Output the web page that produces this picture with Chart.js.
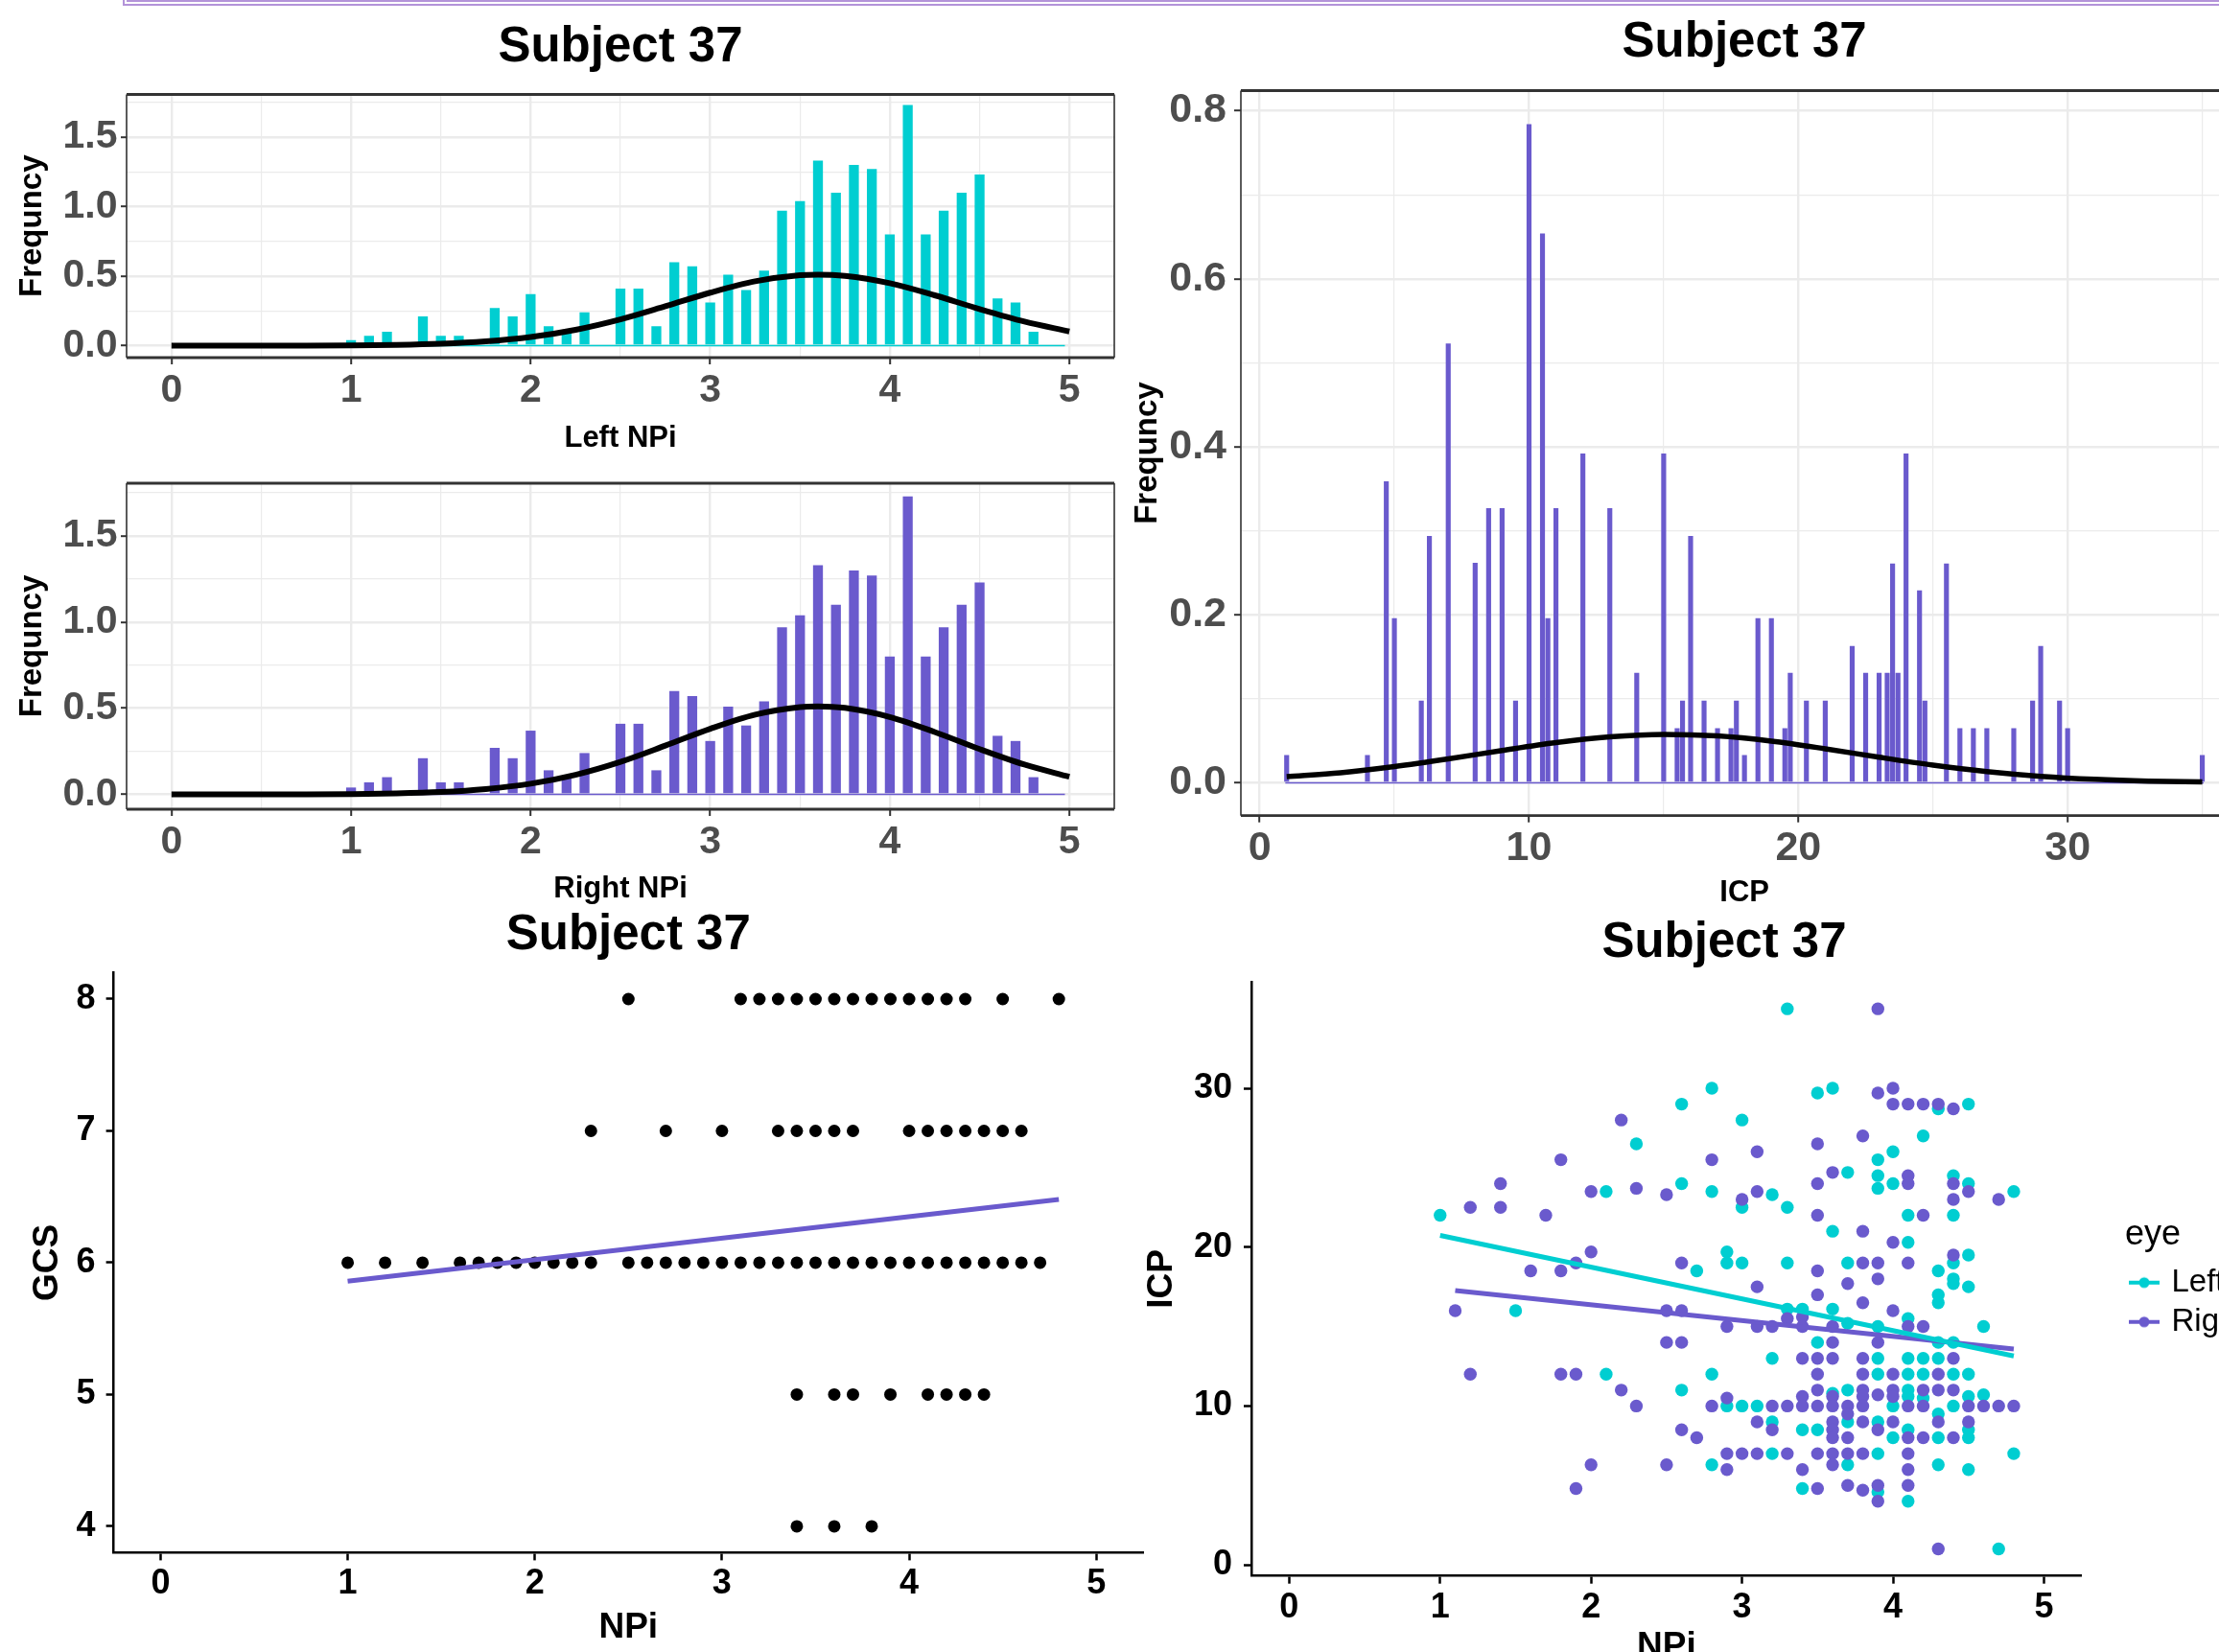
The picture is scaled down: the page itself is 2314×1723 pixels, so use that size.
<!DOCTYPE html>
<html>
<head>
<meta charset="utf-8">
<script src="https://cdn.jsdelivr.net/npm/chart.js@4.4.1/dist/chart.umd.min.js"></script>
<style>
html,body{margin:0;padding:0;background:#fff;overflow:hidden;}
body{position:relative;width:2314px;height:1723px;}
canvas{position:absolute;}
#frame{position:absolute;left:128px;top:-20px;width:2400px;height:14px;border:6px double #b393d9;}
</style>
</head>
<body>
<div id="frame"></div>
<canvas id="cA" width="1175" height="480" style="left:0px;top:0px"></canvas>
<canvas id="cB" width="1175" height="470" style="left:0px;top:480px"></canvas>
<canvas id="cC" width="1180" height="950" style="left:1180px;top:0px"></canvas>
<canvas id="cD" width="1200" height="773" style="left:0px;top:950px"></canvas>
<canvas id="cE" width="1236" height="800" style="left:1180px;top:950px"></canvas>
<script>
// ---------------- DATA ----------------
const CYAN = '#00CED1', PURPLE = '#6A5ACD';
const chartTitle = 'Subject 37';

// Left / Right NPi histograms (density, 0.05-wide bins)
const npiBinCenters = [1.0,1.1,1.2,1.4,1.5,1.6,1.8,1.9,2.0,2.1,2.2,2.3,2.5,2.6,2.7,2.8,2.9,3.0,3.1,3.2,3.3,3.4,3.5,3.6,3.7,3.8,3.9,4.0,4.1,4.2,4.3,4.4,4.5,4.6,4.7,4.8];
const leftNpiDensity  = [0.04,0.07,0.10,0.21,0.07,0.07,0.27,0.21,0.37,0.14,0.10,0.24,0.41,0.41,0.14,0.60,0.57,0.31,0.51,0.40,0.54,0.97,1.04,1.33,1.10,1.30,1.27,0.80,1.73,0.80,0.97,1.10,1.23,0.34,0.31,0.10];
const rightNpiDensity = [0.04,0.07,0.10,0.21,0.07,0.07,0.27,0.21,0.37,0.14,0.10,0.24,0.41,0.41,0.14,0.60,0.57,0.31,0.51,0.40,0.54,0.97,1.04,1.33,1.10,1.30,1.27,0.80,1.73,0.80,0.97,1.10,1.23,0.34,0.31,0.10];
const npiBinSpan = [0.975, 4.975];
const npiCurveX = [0,0.25,0.5,0.75,1,1.25,1.5,1.75,2,2.25,2.5,2.75,3,3.25,3.5,3.6,3.75,4,4.25,4.5,4.75,5];
const npiCurveY = [0,0,0.0002,0.0006,0.002,0.0055,0.0136,0.031,0.062,0.114,0.189,0.283,0.381,0.463,0.507,0.511,0.502,0.449,0.362,0.263,0.173,0.102];
const npiXTicks = [0,1,2,3,4,5];
const npiXMinor = [0.5,1.5,2.5,3.5,4.5];
const densYTicks = [0,0.5,1.0,1.5];
const densYMinor = [0.25,0.75,1.25,1.75];

// ICP histogram (density, 0.1-wide bins)
const icpBinCenters = [1.0,4.0,4.7,5.0,6.0,6.3,7.0,8.0,8.5,9.0,9.5,10.0,10.5,10.7,11.0,12.0,13.0,14.0,15.0,15.5,15.7,16.0,16.5,17.0,17.5,17.7,18.0,18.5,19.0,19.5,19.7,20.3,21.0,22.0,22.5,23.0,23.3,23.5,23.7,24.0,24.5,24.7,25.5,26.0,26.5,27.0,28.0,28.7,29.0,29.7,30.0,35.0];
const icpDensity = [0.033,0.033,0.359,0.196,0.098,0.294,0.523,0.262,0.327,0.327,0.098,0.784,0.654,0.196,0.327,0.392,0.327,0.131,0.392,0.065,0.098,0.294,0.098,0.065,0.065,0.098,0.033,0.196,0.196,0.065,0.131,0.098,0.098,0.163,0.131,0.131,0.131,0.261,0.131,0.392,0.229,0.098,0.261,0.065,0.065,0.065,0.065,0.098,0.163,0.098,0.065,0.033];
const icpBinSpan = [0.95, 35.05];
const icpCurveX = [1,3,5,7,9,11,13,15,17,19,21,23,25,27,29,31,33,35];
const icpCurveY = [0.0075,0.0121,0.0194,0.0285,0.0386,0.0480,0.0549,0.0578,0.0559,0.0497,0.0406,0.0305,0.0211,0.0134,0.0078,0.0042,0.0021,0.0012];
const icpXTicks = [0,10,20,30];
const icpXMinor = [5,15,25,35];
const icpYTicks = [0,0.2,0.4,0.6,0.8];
const icpYMinor = [0.1,0.3,0.5,0.7];

// GCS vs NPi
const gcs8Npi = [2.5,3.1,3.2,3.3,3.4,3.5,3.6,3.7,3.8,3.9,4.0,4.1,4.2,4.3,4.5,4.8];
const gcs7Npi = [2.3,2.7,3.0,3.3,3.4,3.5,3.6,3.7,4.0,4.1,4.2,4.3,4.4,4.5,4.6];
const gcs6Npi = [1.0,1.2,1.4,1.6,1.7,1.8,1.9,2.0,2.1,2.2,2.3,2.5,2.6,2.7,2.8,2.9,3.0,3.1,3.2,3.3,3.4,3.5,3.6,3.7,3.8,3.9,4.0,4.1,4.2,4.3,4.4,4.5,4.6,4.7];
const gcs5Npi = [3.4,3.6,3.7,3.9,4.1,4.2,4.3,4.4];
const gcs4Npi = [3.4,3.6,3.8];
const gcsFitNpi = [1.0, 4.8];
const gcsFitValue = [5.86, 6.48];
const scatterXTicks = [0,1,2,3,4,5];
const gcsYTicks = [4,5,6,7,8];

// ICP vs NPi by eye
const leftEye = [[1.0,22],[1.5,16],[2.1,23.5],[2.1,12],[2.3,26.5],[2.6,29],[2.6,24],[2.6,11],[2.7,18.5],[2.8,30],[2.8,23.5],[2.8,12],[2.8,6.3],[2.9,19.7],[2.9,19],[2.9,10],[3.0,28],[3.0,22.5],[3.0,19],[3.0,10],[3.1,10],[3.2,23.3],[3.2,13],[3.2,9],[3.2,7],[3.3,35],[3.3,22.5],[3.3,19],[3.3,16.1],[3.4,16.1],[3.4,8.5],[3.4,4.8],[3.5,29.7],[3.5,14],[3.5,8.5],[3.6,30],[3.6,21],[3.6,16.1],[3.6,10.8],[3.7,24.7],[3.7,19],[3.7,15.2],[3.7,11],[3.7,9],[3.7,6.3],[3.9,25.5],[3.9,24.5],[3.9,23.7],[3.9,15],[3.9,13],[3.9,12],[3.9,9],[3.9,7],[3.9,4.6],[4.0,26],[4.0,24],[4.0,10],[4.0,8],[4.1,22],[4.1,20.3],[4.1,15.5],[4.1,13],[4.1,12],[4.1,11],[4.1,10.6],[4.1,8.5],[4.1,4],[4.2,27],[4.2,13],[4.2,12],[4.2,10.5],[4.3,28.7],[4.3,18.5],[4.3,17],[4.3,16.5],[4.3,14],[4.3,13],[4.3,9.5],[4.3,8],[4.3,6.3],[4.4,24.5],[4.4,22],[4.4,19],[4.4,18],[4.4,17.7],[4.4,14],[4.4,12],[4.4,10],[4.5,29],[4.5,24],[4.5,19.5],[4.5,17.5],[4.5,12],[4.5,10.6],[4.5,8.5],[4.5,8],[4.5,6],[4.6,15],[4.6,10.7],[4.7,1],[4.8,23.5],[4.8,7]];
const rightEye = [[1.1,16],[1.2,22.5],[1.2,12],[1.4,24],[1.4,22.5],[1.6,18.5],[1.7,22],[1.8,25.5],[1.8,18.5],[1.8,12],[1.9,19],[1.9,12],[1.9,4.8],[2.0,23.5],[2.0,19.7],[2.0,6.3],[2.2,28],[2.2,11],[2.3,23.7],[2.3,10],[2.5,23.3],[2.5,16],[2.5,14],[2.5,6.3],[2.6,19],[2.6,16],[2.6,14],[2.6,8.5],[2.7,8],[2.8,25.5],[2.8,10],[2.9,15],[2.9,10.5],[2.9,7],[2.9,6],[3.0,23],[3.0,7],[3.1,26],[3.1,23.5],[3.1,17.5],[3.1,15],[3.1,9],[3.1,7],[3.2,15],[3.2,10],[3.2,8.5],[3.3,15.5],[3.3,10],[3.3,7],[3.4,15.6],[3.4,15],[3.4,13],[3.4,10.6],[3.4,10],[3.4,6],[3.5,26.5],[3.5,24],[3.5,22],[3.5,18.5],[3.5,17],[3.5,13],[3.5,12],[3.5,11],[3.5,10],[3.5,7],[3.5,4.8],[3.6,24.7],[3.6,15],[3.6,14],[3.6,13],[3.6,10.6],[3.6,10],[3.6,9],[3.6,8.5],[3.6,8],[3.6,7],[3.6,6.3],[3.7,17.7],[3.7,10],[3.7,9.5],[3.7,8],[3.7,7],[3.7,5],[3.8,27],[3.8,21],[3.8,19],[3.8,16.5],[3.8,13],[3.8,12],[3.8,11],[3.8,10.6],[3.8,10],[3.8,9],[3.8,7],[3.8,4.7],[3.9,35],[3.9,29.7],[3.9,19],[3.9,18],[3.9,14],[3.9,10.7],[3.9,8.5],[3.9,5],[3.9,4],[4.0,30],[4.0,29],[4.0,20.3],[4.0,16],[4.0,12],[4.0,11],[4.0,10.6],[4.0,9],[4.1,29],[4.1,24.5],[4.1,24],[4.1,19],[4.1,15],[4.1,10],[4.1,8],[4.1,7],[4.1,6],[4.1,5],[4.2,29],[4.2,22],[4.2,15],[4.2,11],[4.2,10],[4.2,8],[4.3,29],[4.3,12],[4.3,11],[4.3,9],[4.3,1],[4.4,28.7],[4.4,24],[4.4,23],[4.4,19.5],[4.4,13],[4.4,11],[4.4,8],[4.5,23.5],[4.5,10],[4.5,9],[4.6,10],[4.7,23],[4.7,10],[4.8,10]];
const leftFitNpi = [1.0, 4.8];
const leftFitIcp = [20.74, 13.15];
const rightFitNpi = [1.1, 4.8];
const rightFitIcp = [17.26, 13.59];
const icpScatterYTicks = [0,10,20,30];

// ---------------- HELPERS ----------------
const FONT = "'Liberation Sans', Arial, Helvetica, sans-serif";
Chart.defaults.font.family = FONT;
Chart.defaults.color = '#000';
Chart.defaults.animation = false;
Chart.defaults.responsive = false;
Chart.defaults.devicePixelRatio = 1;
Chart.defaults.plugins.legend.display = false;
Chart.defaults.plugins.tooltip.enabled = false;

const pts = (xs, ys) => xs.map((x, i) => ({x: x, y: ys[i]}));
const has = (list, v) => list.some(m => Math.abs(m - v) < 1e-6);
const one = v => Number(v).toFixed(1);
const int = v => String(Math.round(v));

const panelBorder = {
  id: 'panelBorder',
  afterDatasetsDraw(chart) {
    const {ctx, chartArea: a} = chart;
    ctx.save();
    ctx.strokeStyle = '#333333';
    ctx.lineWidth = 1.6;
    ctx.beginPath();
    ctx.moveTo(a.left, a.top); ctx.lineTo(a.left, a.bottom);
    ctx.moveTo(a.right, a.top); ctx.lineTo(a.right, a.bottom);
    ctx.stroke();
    ctx.lineWidth = 2.8;
    ctx.beginPath();
    ctx.moveTo(a.left, a.top); ctx.lineTo(a.right, a.top);
    ctx.moveTo(a.left, a.bottom); ctx.lineTo(a.right, a.bottom);
    ctx.stroke();
    ctx.restore();
  }
};

function axisTitle(text, size, pad, horizontal) {
  return {display: true, text: text, color: '#000',
    font: {size: size, weight: 'bold', lineHeight: 1},
    padding: horizontal ? {top: 0, bottom: pad} : {top: pad, bottom: 0}};
}

function bwScale(o) {
  return {
    type: 'linear', min: o.min, max: o.max, bounds: 'data', offset: false,
    afterBuildTicks: s => { s.ticks = o.major.concat(o.minor).sort((a, b) => a - b).map(v => ({value: v})); },
    afterFit: s => { if (o.horizontal) s.height = o.size; else s.width = o.size; },
    ticks: {autoSkip: false, includeBounds: false, maxRotation: 0, minRotation: 0, padding: o.pad,
      color: '#4d4d4d', font: {size: o.font, weight: 'bold', lineHeight: 1},
      callback: v => has(o.major, v) ? o.fmt(v) : ''},
    grid: {offset: false, drawTicks: true, tickLength: o.tick, color: '#ebebeb',
      lineWidth: c => (c.tick && has(o.major, c.tick.value)) ? 2.4 : 1.2,
      tickColor: c => (c.tick && has(o.major, c.tick.value)) ? '#333333' : 'rgba(0,0,0,0)',
      tickWidth: 2},
    border: {display: false},
    title: o.title
  };
}

function classicScale(o) {
  return {
    type: 'linear', min: o.min, max: o.max, bounds: 'data', offset: false,
    afterBuildTicks: s => { s.ticks = o.major.map(v => ({value: v})); },
    afterFit: s => { if (o.horizontal) s.height = o.size; else s.width = o.size; },
    ticks: {autoSkip: false, includeBounds: false, maxRotation: 0, minRotation: 0, padding: o.pad,
      color: '#000', font: {size: o.font, weight: 'bold', lineHeight: 1}, callback: v => o.fmt(v)},
    grid: {display: true, offset: false, drawOnChartArea: false, drawTicks: true, tickLength: o.tick,
      tickColor: '#000', tickWidth: 2.5},
    border: {display: true, color: '#000', width: 2.5},
    title: o.title
  };
}

function spacer(width, weight) {
  return {type: 'linear', position: 'right', display: true, weight: weight,
    afterFit: s => { s.width = width; },
    ticks: {display: false}, grid: {display: false, drawTicks: false}, border: {display: false}};
}

const titleOpts = (padTop, padBottom, fullSize) => ({display: true, text: chartTitle, color: '#000', fullSize: fullSize,
  font: {size: 51, weight: 'bold', lineHeight: 1}, padding: {top: padTop, bottom: padBottom}});

// ---------------- PANEL A / B : NPi histograms ----------------
function npiHist(id, density, color, xTitle, withTitle, padTop, xHeight) {
  return new Chart(document.getElementById(id), {
    type: 'bar',
    data: {datasets: [
      {type: 'line', data: pts(npiCurveX, npiCurveY), borderColor: '#000', borderWidth: 6, pointRadius: 0,
       cubicInterpolationMode: 'monotone', borderJoinStyle: 'round'},
      {type: 'line', data: pts(npiBinSpan, [0, 0]), borderColor: color, borderWidth: 1.6, pointRadius: 0},
      {type: 'bar', data: pts(npiBinCenters, density), backgroundColor: color, borderWidth: 0,
       barPercentage: 0.55, categoryPercentage: 1}
    ]},
    options: {
      layout: {padding: {left: 0, top: padTop, right: 13, bottom: 0}},
      plugins: {title: withTitle ? titleOpts(24.5, 23, false) : {display: false}},
      scales: {
        x: bwScale({min: -0.25, max: 5.25, major: npiXTicks, minor: npiXMinor, fmt: int, font: 41, pad: 7.5, tick: 7,
          size: xHeight, horizontal: true, title: axisTitle(xTitle, 31, 7.5, true)}),
        y: bwScale({min: -0.086, max: 1.806, major: densYTicks, minor: densYMinor, fmt: one, font: 41, pad: 3.5, tick: 6,
          size: 132, horizontal: false, title: axisTitle('Frequncy', 33, 17.5, false)})
      }
    },
    plugins: [panelBorder]
  });
}
npiHist('cA', leftNpiDensity, CYAN, 'Left NPi', true, 0, 107);
npiHist('cB', rightNpiDensity, PURPLE, 'Right NPi', false, 24, 106);

// ---------------- PANEL C : ICP histogram ----------------
new Chart(document.getElementById('cC'), {
  type: 'bar',
  data: {datasets: [
    {type: 'line', data: pts(icpCurveX, icpCurveY), borderColor: '#000', borderWidth: 5.5, pointRadius: 0,
     cubicInterpolationMode: 'monotone', borderJoinStyle: 'round'},
    {type: 'line', data: pts(icpBinSpan, [0, 0]), borderColor: PURPLE, borderWidth: 1.6, pointRadius: 0},
    {type: 'bar', data: pts(icpBinCenters, icpDensity), backgroundColor: PURPLE, borderWidth: 0,
     barPercentage: 0.92, categoryPercentage: 1}
  ]},
  options: {
    layout: {padding: {left: 0, top: 0, right: 15.7, bottom: 0}},
    plugins: {title: titleOpts(19.5, 24, false)},
    scales: {
      x: bwScale({min: -0.7, max: 36.7, major: icpXTicks, minor: icpXMinor, fmt: int, font: 43, pad: 5.8, tick: 7,
        size: 99.3, horizontal: true, title: axisTitle('ICP', 31, 3, true)}),
      y: bwScale({min: -0.039, max: 0.824, major: icpYTicks, minor: icpYMinor, fmt: one, font: 43, pad: 8, tick: 7,
        size: 114, horizontal: false, title: axisTitle('Frequncy', 33, 0, false)})
    }
  },
  plugins: [panelBorder]
});

// ---------------- PANEL D : GCS vs NPi ----------------
const gcsPoints = []
  .concat(gcs8Npi.map(x => ({x: x, y: 8})))
  .concat(gcs7Npi.map(x => ({x: x, y: 7})))
  .concat(gcs6Npi.map(x => ({x: x, y: 6})))
  .concat(gcs5Npi.map(x => ({x: x, y: 5})))
  .concat(gcs4Npi.map(x => ({x: x, y: 4})));

new Chart(document.getElementById('cD'), {
  type: 'scatter',
  data: {datasets: [
    {type: 'line', data: pts(gcsFitNpi, gcsFitValue), borderColor: PURPLE, borderWidth: 5, pointRadius: 0},
    {data: gcsPoints, backgroundColor: '#000', borderColor: '#000', pointRadius: 6.5, pointBorderWidth: 0, pointHoverRadius: 6.5}
  ]},
  options: {
    layout: {padding: {left: 0, top: 0, right: 8, bottom: 0}},
    plugins: {title: titleOpts(0, 13.5, false)},
    scales: {
      x: classicScale({min: -0.25, max: 5.25, major: scatterXTicks, fmt: int, font: 36, pad: 7.1, tick: 8,
        size: 103.6, horizontal: true, title: axisTitle('NPi', 37, 7, true)}),
      y: classicScale({min: 3.8, max: 8.2, major: gcsYTicks, fmt: int, font: 36, pad: 11, tick: 8,
        size: 118.6, horizontal: false, title: axisTitle('GCS', 37, 31.5, false)})
    }
  }
});

// ---------------- PANEL E : ICP vs NPi by eye ----------------
function keyImage(color) {
  const c = document.createElement('canvas');
  c.width = 32; c.height = 14;
  const g = c.getContext('2d');
  g.strokeStyle = color; g.lineWidth = 4;
  g.beginPath(); g.moveTo(0, 7); g.lineTo(32, 7); g.stroke();
  g.fillStyle = color;
  g.beginPath(); g.arc(16, 7, 5.5, 0, Math.PI * 2); g.fill();
  return c;
}
const keyImages = {Left: keyImage(CYAN), Right: keyImage(PURPLE)};

new Chart(document.getElementById('cE'), {
  type: 'scatter',
  data: {datasets: [
    {type: 'line', data: pts(leftFitNpi, leftFitIcp), borderColor: CYAN, borderWidth: 5, pointRadius: 0},
    {type: 'line', data: pts(rightFitNpi, rightFitIcp), borderColor: PURPLE, borderWidth: 5, pointRadius: 0},
    {label: 'Right', data: rightEye.map(p => ({x: p[0], y: p[1]})), backgroundColor: PURPLE, borderColor: PURPLE,
     pointRadius: 6.7, pointBorderWidth: 0, pointHoverRadius: 6.7},
    {label: 'Left', data: leftEye.map(p => ({x: p[0], y: p[1]})), backgroundColor: CYAN, borderColor: CYAN,
     pointRadius: 6.7, pointBorderWidth: 0, pointHoverRadius: 6.7}
  ]},
  options: {
    layout: {padding: 0},
    plugins: {
      title: titleOpts(8.5, 14.5, true),
      legend: {
        display: true, position: 'right', fullSize: false, align: 'start', maxWidth: 130,
        title: {display: true, text: 'eye', position: 'start', color: '#000',
          font: {size: 36, weight: 'normal', lineHeight: 1.2}, padding: {top: 246, bottom: 0}},
        labels: {
          usePointStyle: true, pointStyleWidth: 24, padding: 8, color: '#000',
          font: {size: 33, weight: 'normal'},
          generateLabels: chart => {
            const items = Chart.defaults.plugins.legend.labels.generateLabels(chart)
              .filter(it => it.text === 'Left' || it.text === 'Right');
            items.sort((a, b) => (a.text === 'Left' ? 0 : 1) - (b.text === 'Left' ? 0 : 1));
            items.forEach(it => { it.pointStyle = keyImages[it.text]; it.fontColor = '#000'; });
            return items;
          }
        }
      }
    },
    scales: {
      x: classicScale({min: -0.25, max: 5.25, major: scatterXTicks, fmt: int, font: 36, pad: 7.8, tick: 8,
        size: 106.3, horizontal: true, title: axisTitle('NPi', 37, 14, true)}),
      y: classicScale({min: -0.7, max: 36.7, major: icpScatterYTicks, fmt: int, font: 36, pad: 12, tick: 8,
        size: 125, horizontal: false, title: axisTitle('ICP', 37, 13.5, false)}),
      gapNear: spacer(45.2, 0),
      gapFar: spacer(70, 2000)
    }
  }
});
</script>
</body>
</html>
